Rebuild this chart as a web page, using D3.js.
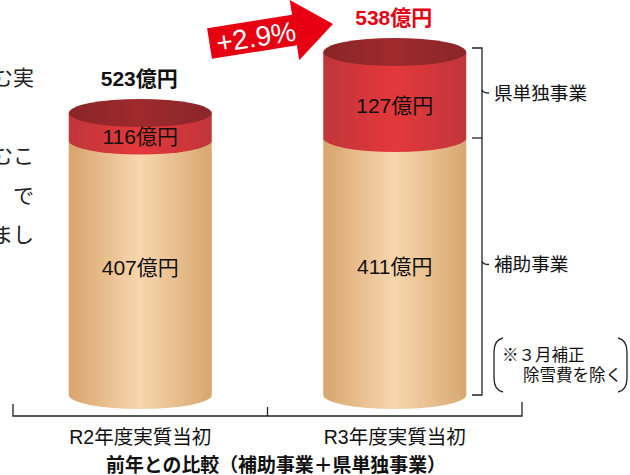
<!DOCTYPE html>
<html>
<head>
<meta charset="utf-8">
<script src="https://cdn.jsdelivr.net/npm/d3@7"></script>
<style>
  body { margin: 0; background: #fff; }
  svg { display: block; font-family: "Liberation Sans", "Noto Sans CJK JP", sans-serif; }
</style>
</head>
<body>
<svg id="chart" width="630" height="475"></svg>
<script>
// data
const years = ["R2年度実質当初", "R3年度実質当初"];
const hojo = [407, 411];      // 補助事業
const kentan = [116, 127];    // 県単独事業
const totals = [523, 538];
const growthLabel = "+2.9%";
const seriesNames = ["県単独事業", "補助事業"];
const noteLines = ["※３月補正", "除雪費を除く"];
const bodyText = ["む実", "", "むこ", "　で", "まし"];
const title = "前年との比較（補助事業＋県単独事業）";

const svg = d3.select("#chart");
const red = "#e60012";

const x = d3.scaleBand().domain(years).range([13, 522]);
const cylW = x.bandwidth() * 0.562;
const rx = cylW / 2, ry = 14;

// the chart is an illustration: the tan part is near-linear, the red tops are not
const yBase = d3.scaleLinear().domain([0, 411]).range([395, 138]);
const yTop = d3.scaleLinear().domain([523, 538]).range([113, 52]);

const defs = svg.append("defs");
function hGrad(id, stops) {
  const g = defs.append("linearGradient").attr("id", id)
    .attr("x1", "0%").attr("x2", "100%").attr("y1", "0%").attr("y2", "0%");
  stops.forEach(s => g.append("stop").attr("offset", s[0]).attr("stop-color", s[1]));
}
hGrad("tan", [["0%", "#d8a56d"], ["50%", "#f8d6ae"], ["100%", "#d7a76f"]]);
hGrad("redSide", [["0%", "#c0353b"], ["50%", "#e4383b"], ["100%", "#c0363b"]]);
hGrad("redTop", [["0%", "#8a2529"], ["50%", "#9f2a2c"], ["100%", "#8a2629"]]);

// body text cut at the left edge
svg.append("g").selectAll("text")
  .data(bodyText)
  .join("text")
  .attr("x", 34)
  .attr("y", (d, i) => 85 + i * 39.2)
  .attr("text-anchor", "end")
  .attr("font-size", 21)
  .attr("fill", "#222")
  .text(d => d);

function sidePath(cx, top, bottom) {
  return `M${cx - rx},${top} L${cx - rx},${bottom} A${rx},${ry} 0 0 0 ${cx + rx},${bottom} L${cx + rx},${top} Z`;
}

const cyl = svg.append("g").selectAll("g")
  .data(years.map((y, i) => ({ year: y, hojo: hojo[i], kentan: kentan[i], total: totals[i], i })))
  .join("g");

cyl.append("path")
  .attr("d", d => sidePath(x(d.year) + x.bandwidth() / 2, yBase(d.hojo), yBase(0)))
  .attr("fill", "url(#tan)");

cyl.append("path")
  .attr("d", d => sidePath(x(d.year) + x.bandwidth() / 2, yTop(d.total), yBase(d.hojo)))
  .attr("fill", "url(#redSide)");

cyl.append("ellipse")
  .attr("cx", d => x(d.year) + x.bandwidth() / 2)
  .attr("cy", d => yTop(d.total))
  .attr("rx", rx).attr("ry", ry)
  .attr("fill", "url(#redTop)");

// segment labels
cyl.append("text")
  .attr("x", d => x(d.year) + x.bandwidth() / 2)
  .attr("y", d => (yTop(d.total) + yBase(d.hojo)) / 2 + 10)
  .attr("text-anchor", "middle").attr("dominant-baseline", "central")
  .attr("font-size", 21).attr("fill", "#111")
  .text(d => d.kentan + "億円");

cyl.append("text")
  .attr("x", d => x(d.year) + x.bandwidth() / 2)
  .attr("y", d => (yBase(d.hojo) + yBase(0)) / 2)
  .attr("text-anchor", "middle").attr("dominant-baseline", "central")
  .attr("font-size", 21).attr("fill", "#111")
  .text(d => d.hojo + "億円");

// totals
cyl.append("text")
  .attr("x", d => x(d.year) + x.bandwidth() / 2 - 1)
  .attr("y", d => yTop(d.total) - 35)
  .attr("text-anchor", "middle").attr("dominant-baseline", "central")
  .attr("font-size", 21).attr("font-weight", "bold")
  .attr("fill", d => d.i === 1 ? red : "#111")
  .text(d => d.total + "億円");

// growth arrow
const arrow = svg.append("g").attr("transform", "translate(209.5,43.5) rotate(-9)");
arrow.append("path")
  .attr("d", "M0,-15.5 L86,-15.5 L86,-30.5 L125,0 L86,30.5 L86,15.5 L0,15.5 Z")
  .attr("fill", red);
arrow.append("text")
  .attr("x", 47).attr("y", 1)
  .attr("text-anchor", "middle").attr("dominant-baseline", "central")
  .attr("font-size", 28).attr("fill", "#fff")
  .text(growthLabel);

// bracket on the right of R3
const last = years.length - 1;
const bx = 482;
const bTop = yTop(totals[last]) - 4, bMid = yBase(hojo[last]), bBot = yBase(0);
const br = svg.append("g").attr("stroke", "#222").attr("stroke-width", 1.3).attr("fill", "none");
br.append("path").attr("d", `M472,${bTop} H${bx} V${bBot} H472`);
br.append("path").attr("d", `M472,${bMid} H${bx}`);
const mids = [(bTop + bMid) / 2, (bMid + bBot) / 2 - 2];
br.selectAll(".tip").data(mids).join("path")
  .attr("class", "tip")
  .attr("d", d => `M${bx},${d - 3} Q${bx + 1},${d} ${bx + 7},${d}`);
svg.append("g").selectAll("text")
  .data(seriesNames)
  .join("text")
  .attr("x", 494)
  .attr("y", (d, i) => mids[i])
  .attr("dominant-baseline", "central")
  .attr("font-size", 18.6).attr("fill", "#111")
  .text(d => d);

// note in round brackets
const note = svg.append("g");
note.append("path")
  .attr("d", "M503,338 Q494,340 494,352 V378 Q494,390 503,392")
  .attr("stroke", "#222").attr("stroke-width", 1.3).attr("fill", "none");
note.append("path")
  .attr("d", "M618,338 Q627,340 627,352 V378 Q627,390 618,392")
  .attr("stroke", "#222").attr("stroke-width", 1.3).attr("fill", "none");
note.selectAll("text").data(noteLines).join("text")
  .attr("x", (d, i) => i === 0 ? 502 : 523)
  .attr("y", (d, i) => 355 + i * 20)
  .attr("dominant-baseline", "central")
  .attr("font-size", 16.5).attr("fill", "#111")
  .text(d => d);

// category axis
const axisY = 416;
const ax = svg.append("g").attr("stroke", "#222").attr("stroke-width", 1.3).attr("fill", "none");
const [r0, r1] = x.range();
ax.append("path").attr("d", `M${r0},404 V${axisY} H${r1} V402`);
ax.append("path").attr("d", `M${x(years[1])},407 V${axisY}`);

svg.append("g").selectAll("text")
  .data(years)
  .join("text")
  .attr("x", d => x(d) + x.bandwidth() / 2)
  .attr("y", 437)
  .attr("text-anchor", "middle").attr("dominant-baseline", "central")
  .attr("font-size", 19.5).attr("fill", "#111")
  .text(d => d);

svg.append("text")
  .attr("x", 276).attr("y", 465)
  .attr("text-anchor", "middle").attr("dominant-baseline", "central")
  .attr("font-size", 18.9).attr("font-weight", "bold").attr("fill", "#111")
  .text(title);
</script>
</body>
</html>
